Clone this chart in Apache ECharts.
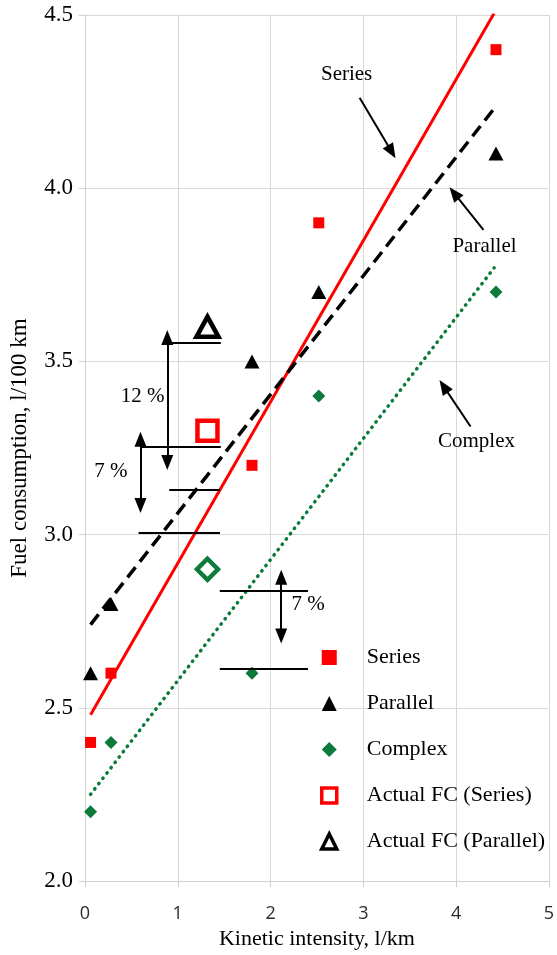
<!DOCTYPE html>
<html><head><meta charset="utf-8">
<script src="https://cdn.jsdelivr.net/npm/echarts@6/dist/echarts.min.js"></script>
<style>html,body{margin:0;padding:0;background:#fff}#c{width:557px;height:955px}</style>
</head><body><div id="c"></div>
<script>
// ---- data ----
const kineticIntensity = [0.06, 0.28, 1.8, 2.52, 4.43];
const fcSeries   = [2.4, 2.6, 3.2, 3.9, 4.4];
const fcParallel = [2.6, 2.8, 3.5, 3.7, 4.1];
const fcComplex  = [2.2, 2.4, 2.6, 3.4, 3.7];
const actualKI = 1.32;
const actualSeries = 3.3;
const actualParallel = 3.6;
const actualComplex = 2.9;
const trendSeries   = [[0.06, 2.48], [4.41, 4.505]];
const trendParallel = [[0.06, 2.74], [4.41, 4.23]];
const trendComplex  = [[0.06, 2.25], [4.41, 3.77]];
const xTicks = [0, 1, 2, 3, 4, 5];
const yTicks = [2.0, 2.5, 3.0, 3.5, 4.0, 4.5];
const legendNames = ['Series', 'Parallel', 'Complex', 'Actual FC (Series)', 'Actual FC (Parallel)'];

// ---- annotations (data coordinates) ----
const arrowLines = [
  [[2.96, 4.261], [3.306, 4.105]],
  [[4.295, 3.88], [3.979, 3.986]],
  [[4.156, 3.312], [3.866, 3.428]]
];
const doubleArrows = [
  [[0.887, 3.569], [0.887, 3.208]],
  [[0.598, 3.275], [0.598, 3.084]],
  [[2.115, 2.877], [2.115, 2.707]]
];
const refLines = [
  [[0.929, 3.554], [1.464, 3.554]],
  [[0.609, 3.254], [1.464, 3.254]],
  [[0.908, 3.130], [1.455, 3.130]],
  [[0.577, 3.006], [1.455, 3.006]],
  [[1.453, 2.839], [2.404, 2.839]],
  [[1.453, 2.614], [2.404, 2.614]]
];
const notes = [
  ['Series', [2.82, 4.327]],
  ['Parallel', [4.306, 3.831]],
  ['Complex', [4.22, 3.269]],
  ['12 %', [0.62, 3.399]],
  ['7 %', [0.278, 3.182]],
  ['7 %', [2.404, 2.799]]
];

const RED = '#ff0000', BLACK = '#000000', GREEN = '#0b7a3b';
const SERIF = '"Liberation Serif", "DejaVu Serif", serif';
const pts = ys => kineticIntensity.map((x, i) => [x, ys[i]]);
const AH = [12, 15];

const mlData = [];
arrowLines.forEach(l => mlData.push([{coord: l[0], symbol: 'none'}, {coord: l[1], symbol: 'triangle', symbolSize: AH}]));
doubleArrows.forEach(l => mlData.push([{coord: l[0], symbol: 'triangle', symbolSize: AH}, {coord: l[1], symbol: 'triangle', symbolSize: AH}]));
refLines.forEach(l => mlData.push([{coord: l[0], symbol: 'none'}, {coord: l[1], symbol: 'none'}]));

const chart = echarts.init(document.getElementById('c'));
chart.setOption({
  animation: false,
  backgroundColor: '#fff',
  grid: {left: 85, right: 4, top: 15, bottom: 73, containLabel: false},
  xAxis: {
    type: 'value', min: xTicks[0], max: xTicks[xTicks.length - 1], interval: 1,
    name: 'Kinetic intensity, l/km', nameLocation: 'middle', nameGap: 47,
    nameTextStyle: {fontFamily: SERIF, fontSize: 22, color: '#000'},
    axisLine: {show: true, lineStyle: {color: '#d0d0d0', width: 1}},
    axisTick: {show: true, length: 6, lineStyle: {color: '#d0d0d0'}},
    axisLabel: {fontFamily: '"Open Sans", sans-serif', fontSize: 18, color: '#2b2b2b', margin: 24},
    splitLine: {show: true, lineStyle: {color: '#d9d9d9', width: 1}}
  },
  yAxis: {
    type: 'value', min: yTicks[0], max: yTicks[yTicks.length - 1], interval: 0.5,
    name: 'Fuel consumption, l/100 km', nameLocation: 'middle', nameGap: 54, nameRotate: 90,
    nameTextStyle: {fontFamily: SERIF, fontSize: 23, color: '#000'},
    axisLine: {show: true, lineStyle: {color: '#d0d0d0', width: 1}},
    axisTick: {show: true, length: 6, lineStyle: {color: '#d0d0d0'}},
    axisLabel: {fontFamily: SERIF, fontSize: 23, color: '#000', margin: 12, formatter: v => v.toFixed(1)},
    splitLine: {show: true, lineStyle: {color: '#d9d9d9', width: 1}}
  },
  legend: {
    orient: 'vertical', left: 315, top: 640, itemWidth: 15, itemHeight: 15, itemGap: 21,
    selectedMode: false,
    textStyle: {fontFamily: SERIF, fontSize: 22, color: '#000', lineHeight: 25, padding: [0, 0, 0, 25]},
    data: [
      {name: legendNames[0], icon: 'rect', itemStyle: {color: RED, opacity: 1}},
      {name: legendNames[1], icon: 'triangle', itemStyle: {color: BLACK, opacity: 1}},
      {name: legendNames[2], icon: 'diamond', itemStyle: {color: GREEN, opacity: 1}},
      {name: legendNames[3], icon: 'rect', itemStyle: {color: '#fff', borderColor: RED, borderWidth: 3.5, opacity: 1}},
      {name: legendNames[4], icon: 'triangle', itemStyle: {color: '#fff', borderColor: BLACK, borderWidth: 3.5, opacity: 1}}
    ]
  },
  series: [
    {type: 'line', name: 'trendSeries', data: trendSeries, showSymbol: false, symbol: 'none', z: 2, clip: true,
     lineStyle: {color: RED, width: 3}},
    {type: 'line', name: 'trendParallel', data: trendParallel, showSymbol: false, symbol: 'none', z: 2, clip: true,
     lineStyle: {color: BLACK, width: 3.5, type: [13, 7]}},
    {type: 'line', name: 'trendComplex', data: trendComplex, showSymbol: false, symbol: 'none', z: 2, clip: true,
     lineStyle: {color: GREEN, width: 3.5, type: [0.5, 6.2], cap: 'round'}},
    {type: 'scatter', name: legendNames[0], data: pts(fcSeries), symbol: 'rect', symbolSize: 11, z: 4,
     itemStyle: {color: RED, opacity: 1}},
    {type: 'scatter', name: legendNames[1], data: pts(fcParallel), symbol: 'triangle', symbolSize: [15, 14], z: 4,
     itemStyle: {color: BLACK, opacity: 1}},
    {type: 'scatter', name: legendNames[2], data: pts(fcComplex), symbol: 'diamond', symbolSize: 13, z: 4,
     itemStyle: {color: GREEN, opacity: 1}},
    {type: 'scatter', name: legendNames[3], data: [[actualKI, actualSeries]], symbol: 'rect', symbolSize: 20, z: 4,
     itemStyle: {color: '#fff', borderColor: RED, borderWidth: 4.5, opacity: 1}},
    {type: 'scatter', name: legendNames[4], data: [[actualKI, actualParallel]], symbol: 'triangle', symbolSize: [22, 20], z: 4,
     itemStyle: {color: '#fff', borderColor: BLACK, borderWidth: 4.5, opacity: 1}},
    {type: 'scatter', name: 'Actual FC (Complex)', data: [[actualKI, actualComplex]], symbol: 'diamond', symbolSize: 21, z: 4,
     itemStyle: {color: '#fff', borderColor: GREEN, borderWidth: 4.5, opacity: 1}},
    {type: 'scatter', name: 'annotations', data: [], z: 3, silent: true,
     markLine: {silent: true, animation: false, label: {show: false}, symbol: ['none', 'none'],
       lineStyle: {color: '#000', width: 2, type: 'solid'}, emphasis: {disabled: true}, data: mlData},
     markPoint: {silent: true, animation: false, symbol: 'circle', symbolSize: 1, itemStyle: {color: 'rgba(0,0,0,0)'},
       label: {show: true, position: 'inside', formatter: p => p.name, fontFamily: SERIF, fontSize: 21, color: '#000'},
       data: notes.map(n => ({name: n[0], coord: n[1]}))}
    }
  ]
});
</script>
</body></html>
